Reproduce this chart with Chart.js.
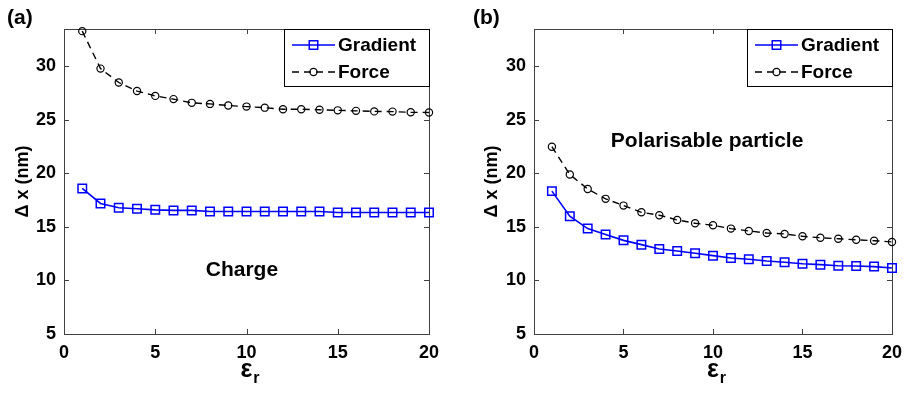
<!DOCTYPE html>
<html>
<head>
<meta charset="utf-8">
<script src="https://cdn.jsdelivr.net/npm/chart.js@4/dist/chart.umd.min.js"></script>
<style>
  body { margin: 0; background: #fff; }
  .wrap { display: flex; width: 910px; height: 394px; }
  canvas { display: block; }
</style>
</head>
<body>
<div class="wrap">
  <canvas id="chart-a" width="455" height="394"></canvas>
  <canvas id="chart-b" width="455" height="394"></canvas>
</div>
<script>
// relative permittivity values (x)
const epsilonR = [1, 2, 3, 4, 5, 6, 7, 8, 9, 10, 11, 12, 13, 14, 15, 16, 17, 18, 19, 20];

// panel (a): charge
const chargeGradient = [18.6, 17.2, 16.8, 16.7, 16.6, 16.55, 16.55, 16.45, 16.45, 16.45,
  16.45, 16.45, 16.45, 16.45, 16.35, 16.35, 16.35, 16.35, 16.35, 16.35];
const chargeForce = [33.3, 29.8, 28.5, 27.7, 27.25, 26.95, 26.6, 26.5, 26.35, 26.25,
  26.15, 26.0, 26.0, 25.95, 25.9, 25.85, 25.8, 25.78, 25.72, 25.7];

// panel (b): polarisable particle
const polarGradient = [18.35, 16.0, 14.85, 14.3, 13.75, 13.35, 12.95, 12.75, 12.55, 12.32,
  12.1, 11.98, 11.82, 11.7, 11.57, 11.48, 11.38, 11.35, 11.3, 11.17];
const polarForce = [22.5, 19.9, 18.55, 17.63, 17.0, 16.37, 16.1, 15.66, 15.35, 15.16,
  14.85, 14.63, 14.44, 14.35, 14.13, 14.0, 13.9, 13.8, 13.72, 13.6];

const xTickValues = [0, 5, 10, 15, 20];
const yTickValues = [5, 10, 15, 20, 25, 30];
const seriesLabels = ['Gradient', 'Force'];

const FONT = '"Liberation Sans", Arial, sans-serif';
const AXIS_COLOR = '#404040';

function toPoints(values) {
  return epsilonR.map((x, i) => ({ x: x, y: values[i] }));
}

// frame with inward ticks on all four sides, legend box, and panel texts
function panelDecor(opts) {
  return {
    id: 'panelDecor',
    beforeDatasetsDraw(chart) {
      const ctx = chart.ctx;
      const a = chart.chartArea;
      const xs = chart.scales.x, ys = chart.scales.y;
      ctx.save();
      ctx.strokeStyle = AXIS_COLOR;
      ctx.lineWidth = 1;
      ctx.strokeRect(Math.round(a.left) + 0.5, Math.round(a.top) + 0.5,
        Math.round(a.right - a.left), Math.round(a.bottom - a.top));
      ctx.beginPath();
      xTickValues.forEach(v => {
        const px = Math.round(xs.getPixelForValue(v)) + 0.5;
        ctx.moveTo(px, a.bottom); ctx.lineTo(px, a.bottom - 5);
        ctx.moveTo(px, a.top); ctx.lineTo(px, a.top + 5);
      });
      yTickValues.forEach(v => {
        const py = Math.round(ys.getPixelForValue(v)) + 0.5;
        ctx.moveTo(a.left, py); ctx.lineTo(a.left + 5, py);
        ctx.moveTo(a.right, py); ctx.lineTo(a.right - 5, py);
      });
      ctx.stroke();
      ctx.restore();
    },
    afterDraw(chart) {
      const ctx = chart.ctx;
      const a = chart.chartArea;
      const xs = chart.scales.x, ys = chart.scales.y;
      ctx.save();
      ctx.fillStyle = '#000';

      // panel label
      ctx.font = 'bold 21px ' + FONT;
      ctx.textAlign = 'left';
      ctx.textBaseline = 'middle';
      ctx.fillText(opts.label, opts.labelX, 18);

      // annotation inside the plot
      ctx.font = 'bold 21px ' + FONT;
      ctx.textAlign = 'center';
      ctx.fillText(opts.note, xs.getPixelForValue(opts.noteX), ys.getPixelForValue(opts.noteY));

      // y title
      ctx.save();
      ctx.translate(opts.yTitleX, (a.top + a.bottom) / 2);
      ctx.rotate(-Math.PI / 2);
      ctx.font = 'bold 18px ' + FONT;
      ctx.textAlign = 'center';
      ctx.textBaseline = 'middle';
      ctx.fillText('\u0394 x (nm)', 0, 0);
      ctx.restore();

      // x title: epsilon with subscript r
      ctx.textBaseline = 'alphabetic';
      ctx.textAlign = 'left';
      ctx.font = 'bold 25px ' + FONT;
      const wEps = ctx.measureText('\u03b5').width;
      ctx.font = 'bold 16px ' + FONT;
      const wR = ctx.measureText('r').width;
      const x0 = (a.left + a.right) / 2 + 3 - (wEps + wR) / 2;
      ctx.font = 'bold 25px ' + FONT;
      ctx.fillText('\u03b5', x0, 377);
      ctx.font = 'bold 16px ' + FONT;
      ctx.fillText('r', x0 + wEps + 1, 383);

      // legend box
      const boxW = 145, boxH = 57;
      const bx = Math.round(a.right - boxW), by = Math.round(a.top);
      ctx.fillStyle = '#fff';
      ctx.fillRect(bx, by, boxW, boxH);
      ctx.strokeStyle = '#000';
      ctx.lineWidth = 1;
      ctx.strokeRect(bx + 0.5, by + 0.5, boxW, boxH);
      chart.data.datasets.forEach((ds, i) => {
        const ry = by + 16 + i * 27;
        ctx.save();
        ctx.strokeStyle = ds.borderColor;
        ctx.lineWidth = ds.borderWidth;
        ctx.setLineDash(ds.borderDash || []);
        ctx.beginPath();
        ctx.moveTo(bx + 8, ry);
        ctx.lineTo(bx + 51, ry);
        ctx.stroke();
        ctx.setLineDash([]);
        ctx.strokeStyle = ds.pointBorderColor;
        ctx.fillStyle = 'rgba(0,0,0,0)';
        ctx.lineWidth = ds.pointBorderWidth;
        Chart.helpers.drawPoint(ctx, {
          pointStyle: ds.pointStyle,
          radius: ds.pointRadius,
          borderWidth: ds.pointBorderWidth
        }, bx + 29.5, ry);
        ctx.restore();
        ctx.fillStyle = '#000';
        ctx.font = 'bold 19px ' + FONT;
        ctx.textAlign = 'left';
        ctx.textBaseline = 'middle';
        ctx.fillText(ds.label, bx + 54, ry + 1);
      });
      ctx.restore();
    }
  };
}

function drawPanel(opts) {
  const ctx = document.getElementById(opts.chartId).getContext('2d');
  return new Chart(ctx, {
    type: 'line',
    data: {
      datasets: [
        {
          label: seriesLabels[0],
          data: toPoints(opts.gradient),
          borderColor: '#0000ff',
          borderWidth: 1.6,
          pointStyle: 'rect',
          pointRadius: 6,
          pointHoverRadius: 6,
          pointBorderWidth: 1.5,
          pointBorderColor: '#0000ff',
          pointBackgroundColor: 'rgba(0,0,0,0)',
          tension: 0,
          clip: false
        },
        {
          label: seriesLabels[1],
          data: toPoints(opts.force),
          borderColor: '#000000',
          borderWidth: 1.4,
          borderDash: [7, 5],
          pointStyle: 'circle',
          pointRadius: 3.6,
          pointHoverRadius: 3.6,
          pointBorderWidth: 1.2,
          pointBorderColor: '#000000',
          pointBackgroundColor: 'rgba(0,0,0,0)',
          tension: 0,
          clip: false
        }
      ]
    },
    options: {
      responsive: false,
      animation: false,
      events: [],
      layout: { padding: { left: 0, right: opts.padRight, top: 29, bottom: 0 } },
      plugins: { legend: { display: false }, tooltip: { enabled: false } },
      scales: {
        x: {
          type: 'linear',
          min: 0,
          max: 20,
          afterFit: s => { s.height = 60; },
          afterBuildTicks: s => { s.ticks = xTickValues.map(v => ({ value: v })); },
          grid: { display: false, drawTicks: false },
          border: { display: false },
          ticks: { color: '#000', padding: 8, maxRotation: 0, font: { family: FONT, size: 18, weight: 'bold' } }
        },
        y: {
          type: 'linear',
          min: 5,
          max: 33.5,
          afterFit: s => { s.width = opts.padLeft; },
          afterBuildTicks: s => { s.ticks = yTickValues.map(v => ({ value: v })); },
          grid: { display: false, drawTicks: false },
          border: { display: false },
          ticks: { color: '#000', padding: 8, font: { family: FONT, size: 18, weight: 'bold' } }
        }
      }
    },
    plugins: [panelDecor(opts)]
  });
}

drawPanel({
  chartId: 'chart-a',
  gradient: chargeGradient,
  force: chargeForce,
  padLeft: 64,
  padRight: 26,
  label: '(a)',
  labelX: 7,
  note: 'Charge',
  noteX: 9.75,
  noteY: 10.95,
  yTitleX: 23
});

drawPanel({
  chartId: 'chart-b',
  gradient: polarGradient,
  force: polarForce,
  padLeft: 79,
  padRight: 12,
  label: '(b)',
  labelX: 18,
  note: 'Polarisable particle',
  noteX: 9.67,
  noteY: 23.05,
  yTitleX: 37
});
</script>
</body>
</html>
